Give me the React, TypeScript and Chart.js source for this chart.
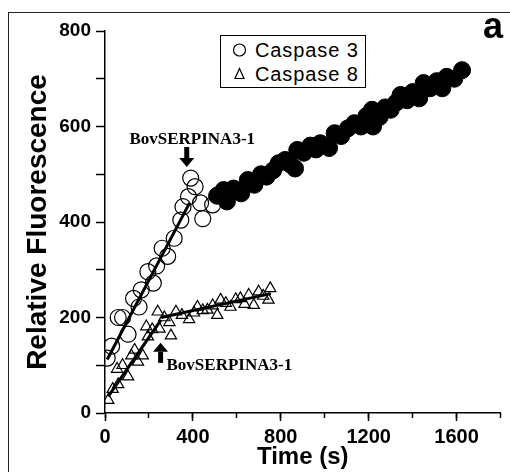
import React, { useEffect, useRef } from "react";
import { Chart, registerables } from "chart.js";

Chart.register(...registerables);

// ---- Data ----
const caspase3EarlyTime = [10, 30, 60, 80, 105, 130, 155, 165, 195, 220, 235, 260, 285, 315, 345, 355, 380, 390, 410, 435, 445, 490];
const caspase3EarlyValue = [115, 140, 200, 200, 165, 240, 222, 258, 296, 272, 308, 345, 328, 366, 404, 432, 453, 492, 474, 440, 407, 436];

const caspase3LateTime = [510, 540, 555, 585, 620, 650, 680, 710, 735, 765, 790, 820, 845, 865, 875, 905, 935, 960, 980, 1020, 1045, 1075, 1105, 1135, 1165, 1190, 1215, 1220, 1250, 1275, 1300, 1325, 1345, 1375, 1400, 1430, 1450, 1480, 1510, 1535, 1555, 1590, 1625];
const caspase3LateValue = [455, 467, 443, 470, 460, 488, 478, 500, 495, 508, 523, 530, 520, 512, 551, 545, 560, 552, 565, 555, 586, 580, 596, 607, 600, 622, 635, 600, 620, 640, 635, 650, 666, 655, 672, 659, 691, 680, 695, 680, 704, 700, 718];

const caspase8Time = [15, 35, 55, 60, 80, 105, 120, 135, 150, 172, 188, 195, 215, 240, 248, 270, 293, 300, 323, 350, 383, 405, 421, 445, 466, 490, 511, 526, 550, 571, 595, 616, 635, 654, 677, 699, 720, 744, 752];
const caspase8Value = [27, 50, 92, 60, 100, 76, 120, 132, 107, 120, 181, 160, 175, 212, 176, 200, 190, 162, 212, 205, 196, 210, 222, 215, 216, 225, 205, 237, 230, 222, 238, 240, 228, 247, 226, 254, 245, 237, 261];

// fitted lines: [start, end]
const fit3EarlyTime = [10, 385];
const fit3EarlyValue = [112, 440];
const fit3LateTime = [510, 1625];
const fit3LateValue = [455, 718];
const fit8EarlyTime = [15, 255];
const fit8EarlyValue = [35, 195];
const fit8LateTime = [255, 755];
const fit8LateValue = [200, 250];

// axis ticks
const xMin = 0;
const xMax = 1800;
const xStep = 200;
const xLabelEvery = 400;
const yMin = 0;
const yMax = 800;
const yStep = 100;
const yLabelEvery = 200;

// annotations: "BovSERPINA3-1" labels and arrows (data coordinates)
const annotationText = ["BovSERPINA3-1", "BovSERPINA3-1"];
const annotationTime = [397, 280];
const annotationValue = [563, 90];
const annotationAlign = ["center", "left"];
const arrowTime = [372, 253];
const arrowTailValue = [557, 105];
const arrowTipValue = [515, 147];

const toXY = (t: number[], v: number[]) => t.map((x, i) => ({ x, y: v[i] }));

const annotationPlugin = {
  id: "bovAnnotations",
  afterDatasetsDraw(chart: any) {
    const { ctx, scales } = chart;
    const xs = scales.x;
    const ys = scales.y;
    ctx.save();
    ctx.fillStyle = "#000";
    ctx.font = "bold 17px 'Liberation Serif', 'Times New Roman', serif";
    ctx.textBaseline = "alphabetic";
    annotationText.forEach((txt, i) => {
      ctx.textAlign = annotationAlign[i];
      ctx.fillText(txt, xs.getPixelForValue(annotationTime[i]), ys.getPixelForValue(annotationValue[i]));
    });
    arrowTime.forEach((t, i) => {
      const px = xs.getPixelForValue(t);
      const tail = ys.getPixelForValue(arrowTailValue[i]);
      const tip = ys.getPixelForValue(arrowTipValue[i]);
      const dir = tip > tail ? 1 : -1;
      const headLen = 9;
      const headBase = tip - dir * headLen;
      ctx.fillRect(px - 2.5, Math.min(tail, headBase), 5, Math.abs(headBase - tail));
      ctx.beginPath();
      ctx.moveTo(px - 7.5, headBase);
      ctx.lineTo(px + 7.5, headBase);
      ctx.lineTo(px, tip);
      ctx.closePath();
      ctx.fill();
    });
    ctx.restore();
  },
};

export default function App() {
  const canvasRef = useRef<HTMLCanvasElement | null>(null);

  useEffect(() => {
    const canvas = canvasRef.current;
    if (!canvas) return;
    const tickFont = "'Liberation Sans', Arial, sans-serif";
    const lineDs = (label: string, t: number[], v: number[], order: number) => ({
      label,
      type: "line",
      data: toXY(t, v),
      showLine: true,
      pointRadius: 0,
      borderColor: "#000",
      borderWidth: 3,
      fill: false,
      order,
    });
    const isMajorX = (c: any) => c && c.tick && Number(c.tick.value) % xLabelEvery === 0;
    const chart = new Chart(canvas, {
      type: "scatter",
      data: {
        datasets: [
          {
            label: "Caspase 3 (after)",
            data: toXY(caspase3LateTime, caspase3LateValue),
            pointStyle: "circle",
            pointRadius: 8.5,
            backgroundColor: "#000",
            borderColor: "#000",
            borderWidth: 1,
            order: 0,
          },
          lineDs("fit 3 late", fit3LateTime, fit3LateValue, 1),
          lineDs("fit 3 early", fit3EarlyTime, fit3EarlyValue, 2),
          lineDs("fit 8 early", fit8EarlyTime, fit8EarlyValue, 3),
          lineDs("fit 8 late", fit8LateTime, fit8LateValue, 4),
          {
            label: "Caspase 3",
            data: toXY(caspase3EarlyTime, caspase3EarlyValue),
            pointStyle: "circle",
            pointRadius: 8,
            backgroundColor: "rgba(255,255,255,0)",
            borderColor: "#000",
            borderWidth: 1.2,
            order: 5,
          },
          {
            label: "Caspase 8",
            data: toXY(caspase8Time, caspase8Value),
            pointStyle: "triangle",
            pointRadius: 6.5,
            backgroundColor: "rgba(255,255,255,0)",
            borderColor: "#000",
            borderWidth: 1.2,
            order: 6,
          },
        ],
      },
      options: {
        animation: false,
        responsive: false,
        maintainAspectRatio: false,
        events: [],
        layout: { padding: { left: 0, right: 6, top: 31, bottom: 0 } },
        plugins: {
          legend: { display: false },
          tooltip: { enabled: false },
        },
        scales: {
          xMinor: {
            type: "linear",
            position: "bottom",
            min: xMin,
            max: xMax,
            weight: 0,
            afterFit: (s: any) => {
              s.height = 0;
            },
            ticks: { stepSize: xStep, autoSkip: false, display: false },
            grid: {
              drawOnChartArea: false,
              drawTicks: true,
              tickLength: 5,
              tickColor: "#000",
              tickWidth: 1.5,
            },
            border: { display: false },
          },
          x: {
            type: "linear",
            position: "bottom",
            min: xMin,
            max: xMax,
            weight: 1,
            afterFit: (s: any) => {
              s.height = 59;
            },
            ticks: {
              stepSize: xStep,
              autoSkip: false,
              maxRotation: 0,
              color: "#000",
              padding: 4,
              font: { family: tickFont, size: 20, weight: "bold" },
              callback: (v: any) => (Number(v) % xLabelEvery === 0 && Number(v) < xMax ? String(v) : ""),
            },
            grid: {
              drawOnChartArea: false,
              drawTicks: true,
              tickLength: 8,
              tickColor: (c: any) => (isMajorX(c) ? "#000" : "rgba(0,0,0,0)"),
              tickWidth: 1.5,
            },
            border: { color: "#000", width: 1.5 },
            title: {
              display: true,
              text: "Time (s)",
              color: "#000",
              font: { family: tickFont, size: 24, weight: "bold" },
              padding: { top: 0, bottom: 0 },
            },
          },
          y: {
            type: "linear",
            min: yMin,
            max: yMax,
            afterFit: (s: any) => {
              s.width = 105;
            },
            ticks: {
              stepSize: yStep,
              autoSkip: false,
              color: "#000",
              padding: 5,
              font: { family: tickFont, size: 19, weight: "bold" },
              callback: (v: any) => (Number(v) % yLabelEvery === 0 ? String(v) : ""),
            },
            grid: {
              drawOnChartArea: false,
              drawTicks: true,
              tickLength: 9,
              tickColor: "#000",
              tickWidth: 1.5,
            },
            border: { color: "#000", width: 1.5 },
            title: {
              display: true,
              text: "Relative Fluorescence",
              color: "#000",
              font: { family: tickFont, size: 28, weight: "bold" },
              padding: { top: 21, bottom: 0 },
            },
          },
        },
      },
      plugins: [annotationPlugin],
    } as any);
    return () => chart.destroy();
  }, []);

  return (
    <div style={{ position: "fixed", left: 0, top: 0, width: 510, height: 472, overflow: "hidden", background: "#fff" }}>
      <div
        style={{
          position: "absolute",
          left: 8,
          top: 12,
          width: 520,
          height: 480,
          borderLeft: "1.5px solid #222",
          borderTop: "1.5px solid #222",
        }}
      />
      <canvas ref={canvasRef} width={510} height={472} style={{ position: "absolute", left: 0, top: 0, width: 510, height: 472 }} />
      <div
        style={{
          position: "absolute",
          left: 483,
          top: 8,
          fontFamily: "'Liberation Sans', Arial, sans-serif",
          fontWeight: "bold",
          fontSize: 36,
          lineHeight: "36px",
          color: "#000",
        }}
      >
        a
      </div>
      <div
        style={{
          position: "absolute",
          left: 220,
          top: 35,
          width: 144,
          height: 51,
          border: "1.5px solid #000",
          background: "#fff",
          fontFamily: "'Liberation Sans', Arial, sans-serif",
          fontSize: 20,
          letterSpacing: "0.9px",
          color: "#000",
        }}
      >
        <div style={{ position: "absolute", left: 0, top: 2, height: 24, width: 144, display: "flex", alignItems: "center" }}>
          <svg width={34} height={24} style={{ flex: "none" }}>
            <circle cx={18.5} cy={12} r={6} fill="none" stroke="#000" strokeWidth={1.2} />
          </svg>
          <span style={{ lineHeight: "24px" }}>Caspase 3</span>
        </div>
        <div style={{ position: "absolute", left: 0, top: 26, height: 24, width: 144, display: "flex", alignItems: "center" }}>
          <svg width={34} height={24} style={{ flex: "none" }}>
            <polygon points="18.5,6.5 23,16.5 14,16.5" fill="none" stroke="#000" strokeWidth={1.2} />
          </svg>
          <span style={{ lineHeight: "24px" }}>Caspase 8</span>
        </div>
      </div>
    </div>
  );
}
